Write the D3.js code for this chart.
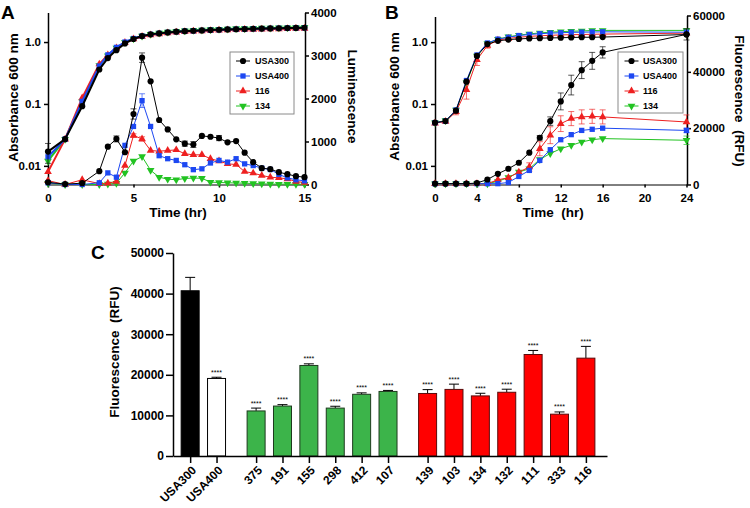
<!DOCTYPE html>
<html><head><meta charset="utf-8">
<script src="https://cdn.jsdelivr.net/npm/d3@7/dist/d3.min.js"></script>
<style>
body{margin:0;background:#fff;}
svg{font-family:"Liberation Sans",Arial,Helvetica,sans-serif;font-weight:bold;}
</style></head><body>
<svg id="c" width="750" height="508"></svg>
<script>
// ---------- shared ----------
const seriesNames = ["USA300","USA400","116","134"];
const seriesColors = ["#000000","#1d48f2","#ee2020","#22c322"];

// ---------- Panel A ----------
const timeA = [0,1,2,3,3.5,4,4.5,5,5.5,6,6.5,7,7.5,8,8.5,9,9.5,10,10.5,11,11.5,12,12.5,13,13.5,14,14.5,15];
const odA_USA300 = [0.017,0.027,0.092,0.36,0.55,0.74,0.95,1.12,1.25,1.33,1.38,1.43,1.47,1.5,1.52,1.54,1.56,1.58,1.6,1.61,1.62,1.64,1.65,1.66,1.67,1.68,1.69,1.7];
const odA_USA400 = [0.014,0.027,0.11,0.41,0.62,0.82,1.0,1.14,1.25,1.33,1.38,1.43,1.47,1.5,1.52,1.54,1.56,1.58,1.6,1.61,1.62,1.64,1.65,1.66,1.67,1.68,1.69,1.7];
const odA_116 = [0.008,0.027,0.125,0.44,0.62,0.8,0.98,1.12,1.23,1.3,1.35,1.4,1.44,1.47,1.49,1.51,1.53,1.55,1.57,1.58,1.59,1.6,1.61,1.62,1.63,1.64,1.65,1.66];
const odA_134 = [0.012,0.027,0.11,0.42,0.6,0.8,0.99,1.13,1.25,1.34,1.4,1.45,1.49,1.52,1.55,1.57,1.59,1.61,1.63,1.65,1.66,1.67,1.68,1.69,1.7,1.71,1.72,1.73];
const odA_USA300_err = [0.006,0,0,0,0,0,0,0,0,0,0,0,0,0,0,0,0,0,0,0,0,0,0,0,0,0,0,0];
const lumA_USA300 = [50,10,30,310,880,1060,750,1640,2950,2400,1500,1280,1050,950,930,1130,1110,1080,980,1010,740,520,380,356,286,240,193,170];
const lumA_USA400 = [40,0,0,40,270,170,910,1350,1950,1350,670,600,560,460,345,365,500,560,520,600,480,440,380,350,235,155,110,85];
const lumA_116 = [90,0,110,20,30,70,440,1140,1060,790,775,790,805,715,690,690,600,545,480,465,300,265,210,170,155,130,70,47];
const lumA_134 = [30,0,0,0,10,30,270,545,650,330,170,125,110,140,150,145,55,47,40,35,30,23,16,10,8,8,5,5];
const lumA_USA300_err = [0,0,0,0,0,70,0,120,110,0,0,0,0,60,70,0,0,60,0,0,0,0,0,0,0,0,0,0];
const lumA_USA400_err = [0,0,0,0,0,0,0,0,160,0,0,0,0,0,0,0,0,0,0,0,0,0,0,0,0,0,0,0];
const lumA_116_err = [0,0,0,0,0,0,0,40,50,0,0,0,0,0,0,0,0,0,0,0,0,0,0,0,0,0,0,0];
const ticksA_x = [0,5,10,15];
const ticksA_left = [0.01,0.1,1];
const ticksA_right = [0,1000,2000,3000,4000];

// ---------- Panel B ----------
const timeB = [0,1,2,3,4,5,6,7,8,9,10,11,12,13,14,15,16,24];
const odB_USA300 = [0.05,0.053,0.078,0.23,0.6,0.93,1.05,1.1,1.13,1.15,1.16,1.17,1.18,1.19,1.2,1.2,1.21,1.33];
const odB_USA400 = [0.05,0.053,0.08,0.24,0.62,0.97,1.12,1.2,1.28,1.33,1.37,1.4,1.42,1.44,1.45,1.46,1.47,1.45];
const odB_116 = [0.049,0.052,0.075,0.17,0.52,0.88,1.08,1.15,1.2,1.24,1.27,1.29,1.31,1.32,1.33,1.34,1.35,1.4];
const odB_134 = [0.05,0.054,0.08,0.22,0.6,0.95,1.12,1.22,1.3,1.36,1.41,1.45,1.48,1.5,1.52,1.54,1.55,1.55];
const odB_116_err = [0,0,0.008,0.05,0.1,0.08,0,0,0,0,0,0,0,0,0,0,0,0];
const fluB_USA300 = [300,300,300,300,500,1780,3800,5580,7720,11300,16600,22500,29500,35300,40600,43900,46900,53300];
const fluB_USA400 = [300,300,300,300,300,300,300,700,2850,5000,8550,12350,15900,17700,19200,19600,20000,19200];
const fluB_116 = [300,300,300,300,300,300,1670,2400,4400,6200,12700,17500,21600,23400,24000,24200,24000,22200];
const fluB_134 = [300,300,300,300,300,300,1100,2500,4400,5600,8900,11000,12700,13900,15100,15900,16300,15700];
const fluB_USA300_err = [0,0,0,0,0,0,0,0,0,0,800,1500,3000,3500,3000,3000,2000,2000];
const fluB_USA400_err = [0,0,0,0,0,0,0,0,0,0,0,0,0,0,0,0,0,800];
const fluB_116_err = [0,0,0,0,0,0,0,0,0,1500,2500,3000,2800,2500,2500,2500,2500,2500];
const fluB_134_err = [0,0,0,0,0,0,0,0,0,0,0,0,0,0,0,0,0,1500];
const ticksB_x = [0,4,8,12,16,20,24];
const ticksB_left = [0.01,0.1,1];
const ticksB_right = [0,20000,40000,60000];

// ---------- Panel C ----------
const strainsC = ["USA300","USA400","375","191","155","298","412","107","139","103","134","132","111","333","116"];
const groupC = ["black","white","green","green","green","green","green","green","red","red","red","red","red","red","red"];
const valuesC = [40700,19100,11100,12300,22300,11800,15200,15900,15400,16400,14800,15700,25000,10300,24100];
const errorsC = [3300,300,700,350,400,450,350,250,950,1300,650,750,1000,550,2900];
const starsC = ["","****","****","****","****","****","****","****","****","****","****","****","****","****","****"];
const slotC = [0,1,2.5,3.5,4.5,5.5,6.5,7.5,9,10,11,12,13,14,15];
const ticksC_y = [0,10000,20000,30000,40000,50000];

// ---------- drawing ----------
const svg = d3.select("#c");
svg.append("rect").attr("width",750).attr("height",508).attr("fill","#fff");

const symDefs = [
  {type:d3.symbolCircle,size:30,rot:0},
  {type:d3.symbolSquare,size:28,rot:0},
  {type:d3.symbolTriangle,size:26,rot:0},
  {type:d3.symbolTriangle,size:26,rot:180}
];

function drawSeries(g, xs, ys, errs, x, y, idx, lw, isLog){
  const color = seriesColors[idx], sym = symDefs[idx];
  const pts = xs.map((t,i)=>({t, v:ys[i], e: errs? errs[i] : 0}));
  const eg = g.append("g").attr("stroke",color).attr("stroke-opacity",0.65).attr("stroke-width",1);
  pts.filter(p=>p.e>0).forEach(p=>{
    const lo = isLog ? Math.max(p.v-p.e, 0.0051) : Math.max(p.v-p.e,0);
    const y1 = y(lo), y2 = y(p.v+p.e), cx = x(p.t);
    eg.append("line").attr("x1",cx).attr("x2",cx).attr("y1",y1).attr("y2",y2);
    eg.append("line").attr("x1",cx-3).attr("x2",cx+3).attr("y1",y1).attr("y2",y1);
    eg.append("line").attr("x1",cx-3).attr("x2",cx+3).attr("y1",y2).attr("y2",y2);
  });
  g.append("path").datum(pts)
    .attr("d", d3.line().x(p=>x(p.t)).y(p=>y(p.v)))
    .attr("fill","none").attr("stroke",color).attr("stroke-width",lw);
  g.selectAll(null).data(pts).join("path")
    .attr("transform",p=>`translate(${x(p.t)},${y(p.v)}) rotate(${sym.rot})`)
    .attr("d", d3.symbol(sym.type, sym.size)())
    .attr("fill",color);
}

function styleAxis(g, fs){
  g.select(".domain").attr("stroke","#000").attr("stroke-width",1.5);
  g.selectAll(".tick line").attr("stroke","#000").attr("stroke-width",1.5);
  g.selectAll(".tick text").attr("font-size",fs).attr("font-weight","bold").attr("fill","#000")
    .attr("font-family",'"Liberation Sans",Arial,sans-serif');
}

function logFmt(d){ return d===1 ? "1.0" : String(d); }
const intFmt = d3.format("d");

function legend(x0, y0, w, h, cx, tx){
  const g = svg.append("g");
  g.append("rect").attr("x",x0).attr("y",y0).attr("width",w).attr("height",h)
    .attr("fill","#fff").attr("stroke","#8a8a8a").attr("stroke-width",1);
  const rows = [61,76,91,106];
  seriesNames.forEach((n,i)=>{
    g.append("line").attr("x1",cx-7).attr("x2",cx+7).attr("y1",rows[i]).attr("y2",rows[i])
      .attr("stroke",seriesColors[i]).attr("stroke-width",1);
    g.append("path").attr("transform",`translate(${cx},${rows[i]}) rotate(${symDefs[i].rot})`)
      .attr("d",d3.symbol(symDefs[i].type,symDefs[i].size)()).attr("fill",seriesColors[i]);
    g.append("text").attr("x",tx).attr("y",rows[i]).attr("dy","0.35em")
      .attr("font-size",9).text(n);
  });
}

function title(x,y,rot,txt,fs){
  svg.append("text").attr("transform",`translate(${x},${y}) rotate(${rot})`)
    .attr("text-anchor","middle").attr("font-size",fs).style("white-space","pre").text(txt);
}

// ===== Panel A =====
const xA = d3.scaleLinear([0,15],[48,304.5]);
const yAL = d3.scaleLog([0.005,3],[184.5,12.5]);
const yAR = d3.scaleLinear([0,4000],[184.5,12.5]);
{
  const gx = svg.append("g").attr("transform","translate(0,184.5)")
    .call(d3.axisBottom(xA).tickValues(ticksA_x).tickSize(3).tickSizeOuter(0).tickPadding(6));
  styleAxis(gx, 11.5);
  gx.select(".domain").attr("stroke-width",1);
  const gl = svg.append("g").attr("transform","translate(48,0)")
    .call(d3.axisLeft(yAL).tickValues(ticksA_left).tickFormat(logFmt).tickSize(4).tickSizeOuter(0).tickPadding(3));
  styleAxis(gl, 11.5);
  const gr = svg.append("g").attr("transform","translate(305,0)")
    .call(d3.axisRight(yAR).tickValues(ticksA_right).tickFormat(intFmt).tickSize(4).tickSizeOuter(0).tickPadding(2));
  styleAxis(gr, 11.5);
  const g = svg.append("g");
  const lumA = [lumA_USA300,lumA_USA400,lumA_116,lumA_134];
  const lumErr = [lumA_USA300_err,lumA_USA400_err,lumA_116_err,null];
  [3,2,1,0].forEach(i=>drawSeries(g, timeA, lumA[i], lumErr[i], xA, yAR, i, 1, false));
  const odA = [odA_USA300,odA_USA400,odA_116,odA_134];
  const odErr = [odA_USA300_err,null,null,null];
  [3,2,1,0].forEach(i=>drawSeries(g, timeA, odA[i], odErr[i], xA, yAL, i, 2, true));
  legend(230,52,64,62,243,255);
  title(17.5,97.5,-90,"Absorbance 600 nm",13.5);
  title(347.5,96.5,90,"Luminescence",13.5);
  title(178,217,0,"Time (hr)",13.5);
  svg.append("text").attr("x",1).attr("y",18.5).attr("font-size",19).text("A");
}

// ===== Panel B =====
const xB = d3.scaleLinear([0,24],[435,686.5]);
const yBL = d3.scaleLog([0.005,2.6],[184.5,16.5]);
const yBR = d3.scaleLinear([0,60000],[184.5,15.5]);
{
  const gx = svg.append("g").attr("transform","translate(0,184.5)")
    .call(d3.axisBottom(xB).tickValues(ticksB_x).tickSize(3).tickSizeOuter(0).tickPadding(6));
  styleAxis(gx, 11.5);
  gx.select(".domain").attr("stroke-width",1);
  const gl = svg.append("g").attr("transform","translate(435,0)")
    .call(d3.axisLeft(yBL).tickValues(ticksB_left).tickFormat(logFmt).tickSize(4).tickSizeOuter(0).tickPadding(3));
  styleAxis(gl, 11.5);
  const gr = svg.append("g").attr("transform","translate(687,0)")
    .call(d3.axisRight(yBR).tickValues(ticksB_right).tickFormat(intFmt).tickSize(4).tickSizeOuter(0).tickPadding(2));
  styleAxis(gr, 11.5);
  const g = svg.append("g");
  const odB = [odB_USA300,odB_USA400,odB_116,odB_134];
  const odErr = [null,null,odB_116_err,null];
  [3,2,1,0].forEach(i=>drawSeries(g, timeB, odB[i], odErr[i], xB, yBL, i, 1, true));
  const fluB = [fluB_USA300,fluB_USA400,fluB_116,fluB_134];
  const fluErr = [fluB_USA300_err,fluB_USA400_err,fluB_116_err,fluB_134_err];
  [3,2,1,0].forEach(i=>drawSeries(g, timeB, fluB[i], fluErr[i], xB, yBR, i, 1, false));
  legend(618,52,65,61,631.5,643);
  title(398.5,96.5,-90,"Absorbance 600 nm",13.5);
  title(735,101,90,"Fluorescence  (RFU)",13.5);
  title(553,217,0,"Time  (hr)",13.5);
  svg.append("text").attr("x",385).attr("y",18.5).attr("font-size",19).text("B");
}

// ===== Panel C =====
const xC = d3.scaleLinear([-0.65,15.8],[173,607]);
const yC = d3.scaleLinear([0,50000],[456,253]);
{
  const fills = {black:"#000000", white:"#ffffff", green:"#3cb44a", red:"#ff0000"};
  const strokes = {black:"#000000", white:"#000000", green:"#1e3a1e", red:"#5a0a0a"};
  const g = svg.append("g");
  const bw = 18;
  strainsC.forEach((s,i)=>{
    const cx = xC(slotC[i]), v = valuesC[i], e = errorsC[i];
    const yt = yC(v+e);
    g.append("line").attr("x1",cx).attr("x2",cx).attr("y1",yC(v)).attr("y2",yt).attr("stroke","#000").attr("stroke-width",1);
    g.append("line").attr("x1",cx-5).attr("x2",cx+5).attr("y1",yt).attr("y2",yt).attr("stroke","#000").attr("stroke-width",1);
    g.append("rect").attr("x",cx-bw/2).attr("y",yC(v)).attr("width",bw).attr("height",yC(0)-yC(v))
      .attr("fill",fills[groupC[i]]).attr("stroke",strokes[groupC[i]]).attr("stroke-width",1);
    if (starsC[i]) g.append("text").attr("x",cx).attr("y",yt-2.5).attr("text-anchor","middle")
      .attr("font-size",7).attr("font-weight","normal").text(starsC[i]);
  });
  const gy = svg.append("g").attr("transform","translate(173,0)")
    .call(d3.axisLeft(yC).tickValues(ticksC_y).tickFormat(intFmt).tickSize(7).tickSizeOuter(0).tickPadding(2));
  styleAxis(gy, 12);
  const gx = svg.append("g").attr("transform","translate(0,456)")
    .call(d3.axisBottom(xC).tickValues(slotC).tickFormat(()=>"").tickSize(7).tickSizeOuter(0));
  styleAxis(gx, 12);
  // rotated (-45°) tick labels, laid out glyph by glyph along the diagonal
  const lab = svg.append("g");
  const fs = 12, c = Math.SQRT1_2;
  const meas = svg.append("text").attr("font-size",fs).attr("x",-999).attr("y",-999);
  strainsC.forEach((s,i)=>{
    const adv = [...s].map(ch => { meas.text(ch); return meas.node().getComputedTextLength(); });
    const L = d3.sum(adv);
    const ex = xC(slotC[i]) + 4, ey = 468;
    const off = 0.35*fs;               // shift baseline half a cap height "down" (rotated)
    let acc = 0; const xs = [], ys = [];
    adv.forEach(a => {
      const back = L - acc;
      xs.push((ex - back*c + off*c).toFixed(2));
      ys.push((ey + back*c + off*c).toFixed(2));
      acc += a;
    });
    lab.append("text").attr("font-size",fs)
      .attr("x", xs.join(" ")).attr("y", ys.join(" ")).attr("rotate","-45").text(s);
  });
  meas.remove();
  title(119,352,-90,"Fluorescence  (RFU)",13.5);
  svg.append("text").attr("x",91).attr("y",258.5).attr("font-size",19).text("C");
}
</script></body></html>
